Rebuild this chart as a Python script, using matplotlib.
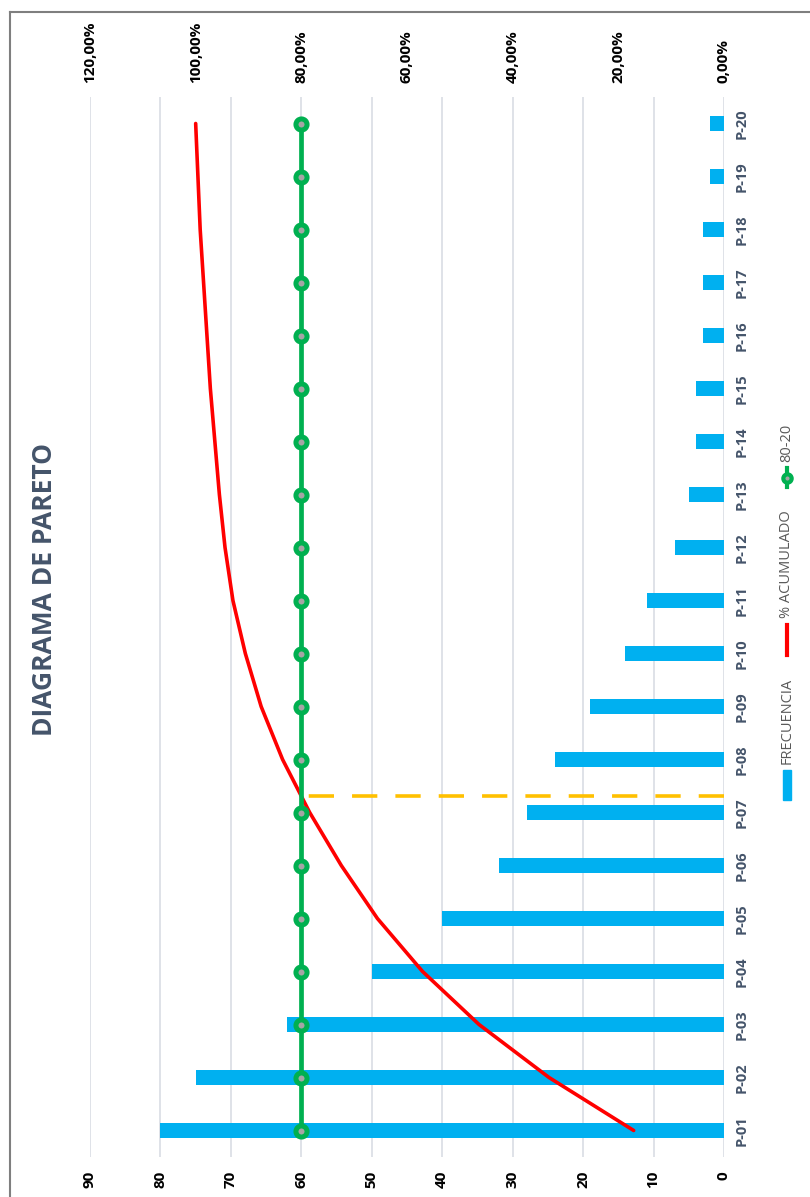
import numpy as np
import matplotlib.pyplot as plt
from matplotlib.lines import Line2D
from matplotlib.patches import Rectangle
from matplotlib.ticker import FuncFormatter

plt.rcParams['font.family'] = ['Open Sans', 'DejaVu Sans']

# Data
categories = ['P-%02d' % i for i in range(1, 21)]
frecuencia = [80, 75, 62, 50, 40, 32, 28, 24, 19, 14, 11, 7, 5, 4, 4, 3, 3, 3, 2, 2]
meta = [0.80] * 20
freq_ticks = [0, 10, 20, 30, 40, 50, 60, 70, 80, 90]
pct_ticks = [0, 0.2, 0.4, 0.6, 0.8, 1.0, 1.2]

freq = np.array(frecuencia, dtype=float)
acumulado = np.cumsum(freq) / freq.sum()
idx = np.arange(len(categories))

# where the cumulative line crosses 80%
k = np.searchsorted(acumulado, 0.8)
cruce = k - 1 + (0.8 - acumulado[k - 1]) / (acumulado[k] - acumulado[k - 1])

BLUE = '#00B0F0'
RED = '#FF0000'
GREEN = '#00B050'
YELLOW = '#FFC000'
SLATE = '#44546A'

fig = plt.figure(figsize=(8.1, 11.97), dpi=100)
ax = fig.add_axes([90 / 810, 1 - 1157 / 1197, (724 - 90) / 810, 1060 / 1197])

ax.barh(idx, freq, height=0.3, color=BLUE, zorder=2)
ax.set_xlim(90, 0)
ax.set_ylim(-0.5, len(categories) - 0.5)
ax.set_xticks(freq_ticks)
ax.set_xticklabels([str(t) for t in freq_ticks], rotation=90, fontsize=11,
                   fontweight='bold')
ax.tick_params(axis='x', length=0, pad=10)
ax.yaxis.tick_right()
ax.set_yticks(idx)
ax.set_yticklabels(categories, rotation=90, va='center', fontsize=10.5,
                   fontweight='bold', color=SLATE)
ax.tick_params(axis='y', length=0, pad=8)
ax.grid(axis='x', color='#D9DDE4', lw=1.2, zorder=0)
ax.set_axisbelow(True)
for s in ax.spines.values():
    s.set_visible(False)

ax2 = ax.twiny()
ax2.set_xlim(1.2, 0)
ax2.plot(acumulado, idx, color=RED, lw=2.6, solid_capstyle='round')
ax2.plot(meta, idx, color=GREEN, lw=3.4, marker='o', markersize=8,
         markerfacecolor='#A5A5A5', markeredgecolor=GREEN, markeredgewidth=3.6)
ax2.plot([0, 0.8], [cruce, cruce], color=YELLOW, lw=2.6, dashes=(7, 5))
ax2.set_xticks(pct_ticks)
ax2.xaxis.set_major_formatter(FuncFormatter(lambda v, p: ('%.2f%%' % (v * 100)).replace('.', ',')))
for lab in ax2.get_xticklabels():
    lab.set_rotation(90)
    lab.set_fontweight('bold')
    lab.set_fontsize(11)
ax2.tick_params(axis='x', length=0, pad=10)
for s in ax2.spines.values():
    s.set_visible(False)

# Title
fig.text(45 / 810, 1 - 590 / 1197, 'DIAGRAMA DE PARETO', rotation=90, ha='center',
         va='center', fontsize=19, fontweight='bold', color=SLATE)

# Legend (rotated, drawn by hand)
lx = 787 / 810
def fy(py):
    return 1 - py / 1197
fig.patches.append(Rectangle((lx - 4 / 810, fy(800)), 8 / 810, 30 / 1197,
                             transform=fig.transFigure, color=BLUE))
fig.text(lx, fy(764), 'FRECUENCIA', rotation=90, ha='center', va='bottom',
         fontsize=10.5, color='#595959')
fig.add_artist(Line2D([lx, lx], [fy(655), fy(625)], color=RED, lw=3,
                      transform=fig.transFigure))
fig.text(lx, fy(618), '% ACUMULADO', rotation=90, ha='center', va='bottom',
         fontsize=10.5, color='#595959')
fig.add_artist(Line2D([lx, lx], [fy(487), fy(468)], color=GREEN, lw=3,
                      transform=fig.transFigure))
fig.add_artist(Line2D([lx], [fy(478)], color=GREEN, marker='o', markersize=6,
                      markerfacecolor='#A5A5A5', markeredgecolor=GREEN,
                      markeredgewidth=3, transform=fig.transFigure))
fig.text(lx, fy(462), '80-20', rotation=90, ha='center', va='bottom',
         fontsize=10.5, color='#595959')

# Outer border (only top and left edges are visible in the crop)
fig.add_artist(Line2D([10 / 810, 1], [fy(12), fy(12)], color='#7F7F7F', lw=1.5,
                      transform=fig.transFigure))
fig.add_artist(Line2D([10 / 810, 10 / 810], [fy(12), 0], color='#7F7F7F', lw=1.5,
                      transform=fig.transFigure))

fig.savefig('out.png', dpi=100)
